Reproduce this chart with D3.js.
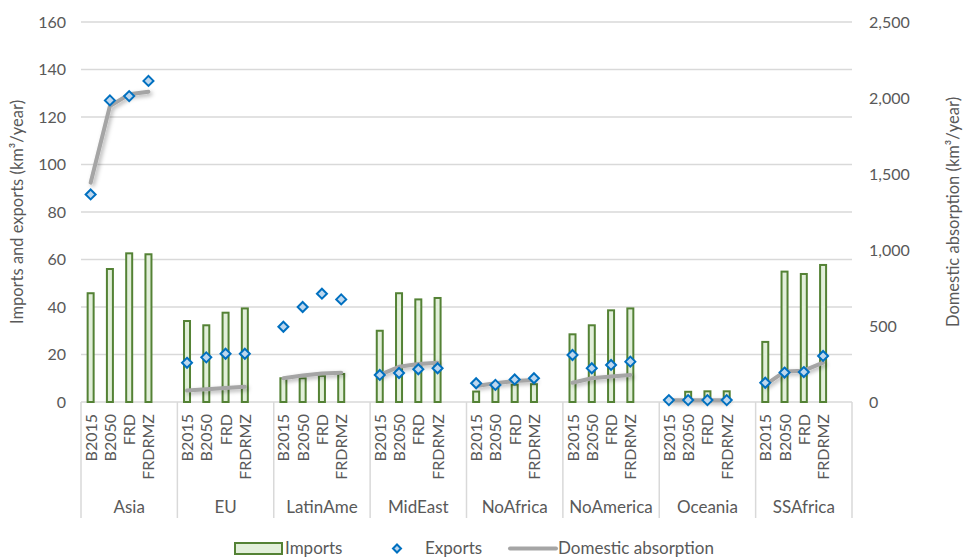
<!DOCTYPE html>
<html>
<head>
<meta charset="utf-8">
<script src="https://cdn.jsdelivr.net/npm/d3@7"></script>
<style>
  body { margin: 0; background: #fff; }
  text { font-family: Lato, "Open Sans", sans-serif; fill: #595959; }
</style>
</head>
<body>
<svg id="chart"></svg>
<script>
const width = 964;
const height = 557;

const regions = ["Asia", "EU", "LatinAme", "MidEast", "NoAfrica", "NoAmerica", "Oceania", "SSAfrica"];
const scenarios = ["B2015", "B2050", "FRD", "FRDRMZ"];

// km3/year, one row per region, columns follow scenarios
const imports = [
    [45.8, 56, 62.6, 62.2],
    [34.1, 32.3, 37.6, 39.4],
    [10, 10, 11, 11.8],
    [30, 45.8, 43.2, 43.8],
    [4.4, 7.2, 7.3, 7.5],
    [28.5, 32.3, 38.6, 39.4],
    [1.2, 4.3, 4.5, 4.5],
    [25.3, 54.9, 53.9, 57.7]
];
const exports_ = [
    [87.4, 127, 128.8, 135.2],
    [16.5, 18.8, 20.3, 20.3],
    [31.7, 40, 45.6, 43.2],
    [11.4, 12.2, 13.8, 14.2],
    [7.9, 7.2, 9.5, 10],
    [19.8, 14.2, 15.6, 17],
    [0.8, 0.8, 0.8, 0.8],
    [8.1, 12.4, 12.6, 19.4]
];
const absorption = [
    [1443, 1947, 2024, 2041],
    [75, 84, 92, 100],
    [156, 175, 187, 193],
    [178, 232, 250, 259],
    [105, 123, 138, 145],
    [127, 156, 167, 178],
    [12, 12, 12, 12],
    [112, 200, 206, 259]
];
const leftTicks = [0, 20, 40, 60, 80, 100, 120, 140, 160];
const rightTicks = [0, 500, 1000, 1500, 2000, 2500];

const plotLeft = 81, plotRight = 852, plotTop = 22, plotBottom = 402;

const svg = d3.select("#chart")
    .attr("width", width)
    .attr("height", height);

// user space units so flat lines (zero height bbox) still render
const defs = svg.append("defs");
defs.append("filter")
    .attr("id", "shadow")
    .attr("filterUnits", "userSpaceOnUse")
    .attr("x", 0).attr("y", 0)
    .attr("width", width).attr("height", height)
    .append("feDropShadow")
    .attr("dx", 2).attr("dy", 2)
    .attr("stdDeviation", 2)
    .attr("flood-color", "#000")
    .attr("flood-opacity", 0.3);

const x0 = d3.scaleBand()
    .domain(regions)
    .range([plotLeft, plotRight]);

// 5 slots per region, last one is left empty
const x1 = d3.scaleBand()
    .domain([...scenarios, "_"])
    .range([0, x0.bandwidth()]);

const yL = d3.scaleLinear().domain([0, 160]).range([plotBottom, plotTop]);
const yR = d3.scaleLinear().domain([0, 2500]).range([plotBottom, plotTop]);

const cx = (r, s) => x0(r) + x1(s) + x1.bandwidth() / 2;

// gridlines
svg.append("g")
    .selectAll("line")
    .data(leftTicks.slice(1))
    .join("line")
    .attr("x1", plotLeft)
    .attr("x2", plotRight)
    .attr("y1", d => yL(d))
    .attr("y2", d => yL(d))
    .attr("stroke", "#d9d9d9")
    .attr("stroke-width", 1.5);

// left axis
const leftAxis = svg.append("g")
    .attr("transform", `translate(${plotLeft - 15},0)`)
    .call(d3.axisLeft(yL).tickValues(leftTicks).tickSize(0).tickPadding(0));
leftAxis.select(".domain").remove();
leftAxis.selectAll("text")
    .style("font-size", "16px")
    .style("font-family", "Lato, sans-serif")
    .attr("fill", "#595959");

// right axis
const rightAxis = svg.append("g")
    .attr("transform", `translate(${plotRight + 17},0)`)
    .call(d3.axisRight(yR).tickValues(rightTicks).tickSize(0).tickPadding(0).tickFormat(d3.format(",")));
rightAxis.select(".domain").remove();
rightAxis.selectAll("text")
    .style("font-size", "16px")
    .style("font-family", "Lato, sans-serif")
    .attr("fill", "#595959");

// axis titles
svg.append("text")
    .attr("transform", `translate(23,${(plotTop + plotBottom) / 2}) rotate(-90)`)
    .attr("text-anchor", "middle")
    .style("font-size", "16.5px")
    .text("Imports and exports (km³/year)");

svg.append("text")
    .attr("transform", `translate(959,${(plotTop + plotBottom) / 2}) rotate(-90)`)
    .attr("text-anchor", "middle")
    .style("font-size", "16.5px")
    .text("Domestic absorption (km³/year)");

// category axis box
const catBottom = 518;
svg.append("line")
    .attr("x1", plotLeft).attr("x2", plotRight)
    .attr("y1", plotBottom).attr("y2", plotBottom)
    .attr("stroke", "#d9d9d9").attr("stroke-width", 1.5);
svg.append("g")
    .selectAll("line")
    .data([...regions.map(r => x0(r)), plotRight])
    .join("line")
    .attr("x1", d => d).attr("x2", d => d)
    .attr("y1", plotBottom).attr("y2", catBottom)
    .attr("stroke", "#d9d9d9").attr("stroke-width", 1.5);

const flat = regions.flatMap((r, i) => scenarios.map((s, j) => ({
    region: r, scenario: s,
    imp: imports[i][j], exp: exports_[i][j], abs: absorption[i][j]
})));

// scenario tick labels
svg.append("g")
    .selectAll("text")
    .data(flat)
    .join("text")
    .attr("transform", d => `translate(${cx(d.region, d.scenario) + 6},${plotBottom + 12}) rotate(-90)`)
    .attr("text-anchor", "end")
    .style("font-size", "16px")
    .text(d => d.scenario);

// region labels
svg.append("g")
    .selectAll("text")
    .data(regions)
    .join("text")
    .attr("x", d => x0(d) + x0.bandwidth() / 2)
    .attr("y", 513)
    .attr("text-anchor", "middle")
    .style("font-size", "17px")
    .text(d => d);

// imports bars
const barW = 6;
svg.append("g")
    .selectAll("rect")
    .data(flat)
    .join("rect")
    .attr("x", d => cx(d.region, d.scenario) - barW / 2)
    .attr("y", d => yL(d.imp))
    .attr("width", barW)
    .attr("height", d => yL(0) - yL(d.imp))
    .attr("fill", "#e2efda")
    .attr("stroke", "#548235")
    .attr("stroke-width", 2);

// domestic absorption lines
const line = d3.line()
    .x(d => cx(d.region, d.scenario))
    .y(d => yR(d.abs));

svg.append("g")
    .selectAll("path")
    .data(regions.map(r => flat.filter(d => d.region === r)))
    .join("path")
    .attr("d", line)
    .attr("fill", "none")
    .attr("stroke", "#a5a5a5")
    .attr("stroke-width", 4)
    .attr("stroke-linecap", "round")
    .attr("stroke-linejoin", "round")
    .attr("filter", "url(#shadow)");

// exports diamonds
const diamond = (x, y, r) => `M${x},${y - r}L${x + r},${y}L${x},${y + r}L${x - r},${y}Z`;
svg.append("g")
    .selectAll("path")
    .data(flat)
    .join("path")
    .attr("d", d => diamond(cx(d.region, d.scenario), yL(d.exp), 5))
    .attr("fill", "#bdd7ee")
    .attr("stroke", "#0070c0")
    .attr("stroke-width", 2);

// legend
const lg = svg.append("g");
lg.append("rect")
    .attr("x", 235).attr("y", 543)
    .attr("width", 47).attr("height", 11)
    .attr("fill", "#e2efda")
    .attr("stroke", "#548235")
    .attr("stroke-width", 2);
lg.append("text").attr("x", 285).attr("y", 554).style("font-size", "17px").text("Imports");
lg.append("path")
    .attr("d", diamond(397, 548.5, 4))
    .attr("fill", "#bdd7ee")
    .attr("stroke", "#0070c0")
    .attr("stroke-width", 2);
lg.append("text").attr("x", 425).attr("y", 554).style("font-size", "17px").text("Exports");
lg.append("line")
    .attr("x1", 510).attr("x2", 556)
    .attr("y1", 548.5).attr("y2", 548.5)
    .attr("stroke", "#a5a5a5")
    .attr("stroke-width", 4)
    .attr("stroke-linecap", "round");
lg.append("text").attr("x", 558).attr("y", 554).style("font-size", "17px").text("Domestic absorption");
</script>
</body>
</html>
